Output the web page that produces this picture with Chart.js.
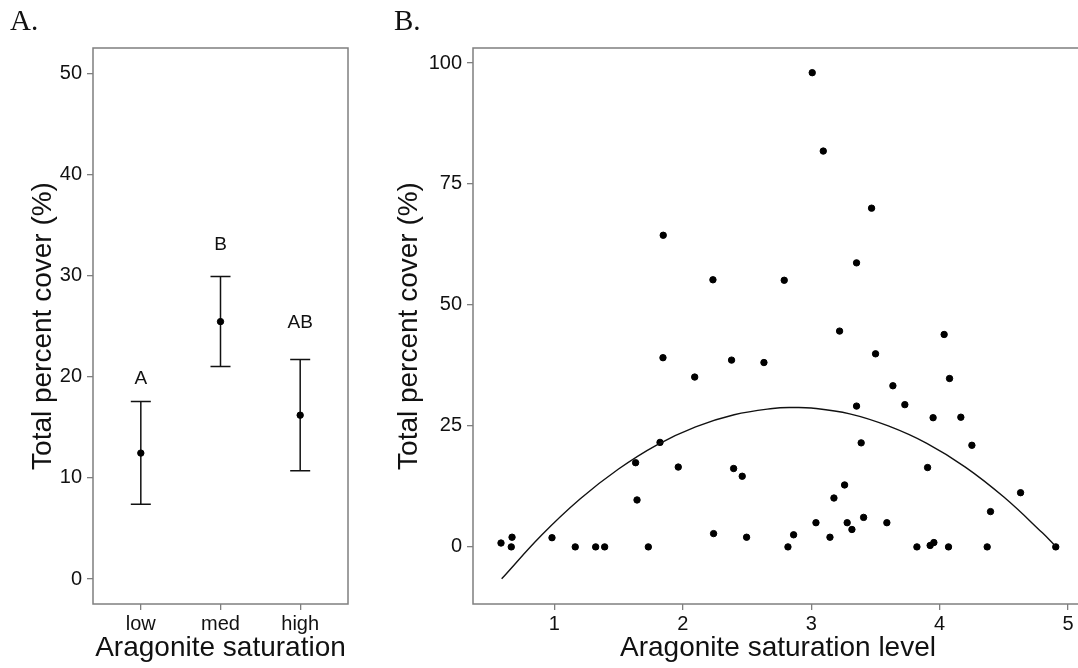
<!DOCTYPE html>
<html>
<head>
<meta charset="utf-8">
<script src="https://cdn.jsdelivr.net/npm/chart.js@4.4.1/dist/chart.umd.min.js"></script>
<style>
  html, body { margin: 0; padding: 0; background: #fff; overflow: hidden; width: 1078px; height: 668px; }
  #wrapA { position: absolute; left: 0; top: 0; width: 360px; height: 668px; }
  #wrapB { position: absolute; left: 380px; top: 0; width: 710px; height: 668px; }
</style>
</head>
<body>
<div id="wrapA"><canvas id="chartA" width="360" height="668"></canvas></div>
<div id="wrapB"><canvas id="chartB" width="710" height="668"></canvas></div>
<script>
// Panel A - mean cover per saturation group with intervals
const groups = ['low', 'med', 'high'];
const groupMean = [12.45, 25.45, 16.2];
const groupLower = [7.4, 21.0, 10.7];
const groupUpper = [17.55, 29.9, 21.7];
const groupLetters = ['A', 'B', 'AB'];
const letterY = [19.8, 33.0, 25.3];
const yTicksA = [0, 10, 20, 30, 40, 50];

// Panel B - individual sites
const satLevel = [0.585, 0.671, 0.665, 0.982, 1.163, 1.322, 1.392, 1.633, 1.644, 1.732,
  1.823, 1.846, 1.848, 1.965, 2.093, 2.235, 2.240, 2.380, 2.396, 2.463,
  2.497, 2.632, 2.790, 2.819, 2.863, 3.008, 3.037, 3.094, 3.146, 3.177,
  3.221, 3.260, 3.280, 3.317, 3.353, 3.353, 3.389, 3.408, 3.470, 3.501,
  3.589, 3.636, 3.729, 3.823, 3.906, 3.926, 3.949, 3.955, 4.035, 4.069,
  4.077, 4.165, 4.251, 4.370, 4.396, 4.630, 4.904];
const cover = [0.8, 2.0, 0, 1.9, 0, 0, 0, 17.4, 9.7, 0,
  21.6, 39.1, 64.4, 16.5, 35.1, 55.2, 2.75, 38.6, 16.2, 14.6,
  2.0, 38.1, 55.1, 0, 2.5, 98.0, 5.0, 81.8, 2.0, 10.1,
  44.6, 12.8, 5.0, 3.6, 58.7, 29.1, 21.5, 6.1, 70.0, 39.9,
  5.0, 33.3, 29.4, 0, 16.4, 0.3, 26.7, 0.9, 43.9, 0,
  34.8, 26.8, 21.0, 0, 7.3, 11.2, 0];
// fitted curve
const fitX = [0.59, 0.9, 1.2, 1.5, 1.8, 2.1, 2.4, 2.7, 2.85, 3.0, 3.3, 3.6, 3.9, 4.2, 4.5, 4.8, 4.9];
const fitY = [-6.6, 2.4, 9.9, 16.1, 21.1, 24.8, 27.3, 28.6, 28.8, 28.7, 27.5, 25.0, 21.4, 16.5, 10.3, 2.9, 0.2];
const xTicksB = [1, 2, 3, 4, 5];
const yTicksB = [0, 25, 50, 75, 100];

const SANS = "'Liberation Sans', Arial, Helvetica, sans-serif";
const SERIF = "'Liberation Serif', 'Times New Roman', serif";
const FRAME = '#7f7f7f';

Chart.defaults.font.family = SANS;
Chart.defaults.color = '#111';

// grey box around the plot area
const framePlugin = {
  id: 'frame',
  beforeDatasetsDraw(chart) {
    const { ctx, chartArea: a } = chart;
    ctx.save();
    ctx.strokeStyle = FRAME;
    ctx.lineWidth = 1.5;
    ctx.strokeRect(a.left, a.top, a.right - a.left, a.bottom - a.top);
    ctx.restore();
  },
  afterDraw(chart, args, opts) {
    if (!opts.label) return;
    const ctx = chart.ctx;
    ctx.save();
    ctx.font = '29px ' + SERIF;
    ctx.fillStyle = '#111';
    ctx.textBaseline = 'alphabetic';
    ctx.fillText(opts.label, opts.x, opts.y);
    ctx.restore();
  }
};

// error bars + group letters for panel A
const errorBarPlugin = {
  id: 'errorBars',
  beforeDatasetsDraw(chart) {
    const { ctx, scales: { x, y } } = chart;
    ctx.save();
    ctx.strokeStyle = '#111';
    ctx.lineWidth = 1.5;
    groups.forEach((g, i) => {
      const px = x.getPixelForValue(i);
      const yl = y.getPixelForValue(groupLower[i]);
      const yu = y.getPixelForValue(groupUpper[i]);
      ctx.beginPath();
      ctx.moveTo(px, yl); ctx.lineTo(px, yu);
      ctx.moveTo(px - 10, yl); ctx.lineTo(px + 10, yl);
      ctx.moveTo(px - 10, yu); ctx.lineTo(px + 10, yu);
      ctx.stroke();
    });
    ctx.font = '19px ' + SANS;
    ctx.fillStyle = '#111';
    ctx.textAlign = 'center';
    ctx.textBaseline = 'middle';
    groupLetters.forEach((t, i) => {
      ctx.fillText(t, x.getPixelForValue(i), y.getPixelForValue(letterY[i]));
    });
    ctx.restore();
  }
};

const tickFont = { size: 20, family: SANS };
const titleFont = { size: 28, family: SANS, lineHeight: 1.2 };
const axisGrid = { display: true, drawOnChartArea: false, drawTicks: true, tickLength: 6, color: FRAME, lineWidth: 1.3 };

new Chart(document.getElementById('chartA'), {
  type: 'scatter',
  data: {
    datasets: [{
      data: groupMean.map((m, i) => ({ x: i, y: m })),
      backgroundColor: '#000',
      borderColor: '#000',
      pointRadius: 3.2,
      pointHoverRadius: 3.2
    }]
  },
  options: {
    responsive: false,
    animation: false,
    layout: { padding: { top: 48, right: 12, left: 0, bottom: 0 } },
    plugins: {
      legend: { display: false },
      tooltip: { enabled: false },
      frame: { label: 'A.', x: 10, y: 30 }
    },
    scales: {
      x: {
        type: 'linear',
        min: -0.6,
        max: 2.6,
        afterBuildTicks: s => { s.ticks = groups.map((g, i) => ({ value: i })); },
        afterFit: s => { s.height = 64; },
        ticks: { font: tickFont, padding: 2, callback: v => groups[v] },
        grid: axisGrid,
        border: { display: false },
        title: { display: true, text: 'Aragonite saturation', font: titleFont, color: '#111', padding: { top: 0, bottom: 3 } }
      },
      y: {
        min: -2.47,
        max: 52.5,
        afterBuildTicks: s => { s.ticks = yTicksA.map(v => ({ value: v })); },
        afterFit: s => { s.width = 93; },
        ticks: { font: tickFont, padding: 5 },
        grid: axisGrid,
        border: { display: false },
        title: { display: true, text: 'Total percent cover (%)', font: titleFont, color: '#111', padding: { top: 26, bottom: 0 } }
      }
    }
  },
  plugins: [framePlugin, errorBarPlugin]
});

new Chart(document.getElementById('chartB'), {
  type: 'scatter',
  data: {
    datasets: [
      {
        type: 'line',
        data: fitX.map((v, i) => ({ x: v, y: fitY[i] })),
        borderColor: '#111',
        borderWidth: 1.4,
        pointRadius: 0,
        fill: false,
        tension: 0.4
      },
      {
        data: satLevel.map((v, i) => ({ x: v, y: cover[i] })),
        backgroundColor: '#000',
        borderColor: '#000',
        pointRadius: 3.2,
        pointHoverRadius: 3.2
      }
    ]
  },
  options: {
    responsive: false,
    animation: false,
    layout: { padding: { top: 48, right: 7, left: 0, bottom: 0 } },
    plugins: {
      legend: { display: false },
      tooltip: { enabled: false },
      frame: { label: 'B.', x: 14, y: 29.5 }
    },
    scales: {
      x: {
        type: 'linear',
        min: 0.367,
        max: 5.116,
        afterBuildTicks: s => { s.ticks = xTicksB.map(v => ({ value: v })); },
        afterFit: s => { s.height = 64; },
        ticks: { font: tickFont, padding: 2 },
        grid: axisGrid,
        border: { display: false },
        title: { display: true, text: 'Aragonite saturation level', font: titleFont, color: '#111', padding: { top: 0, bottom: 3 } }
      },
      y: {
        min: -11.8,
        max: 103.1,
        afterBuildTicks: s => { s.ticks = yTicksB.map(v => ({ value: v })); },
        afterFit: s => { s.width = 93; },
        ticks: { font: tickFont, padding: 5 },
        grid: axisGrid,
        border: { display: false },
        title: { display: true, text: 'Total percent cover (%)', font: titleFont, color: '#111', padding: { top: 12, bottom: 0 } }
      }
    }
  },
  plugins: [framePlugin]
});
</script>
</body>
</html>
